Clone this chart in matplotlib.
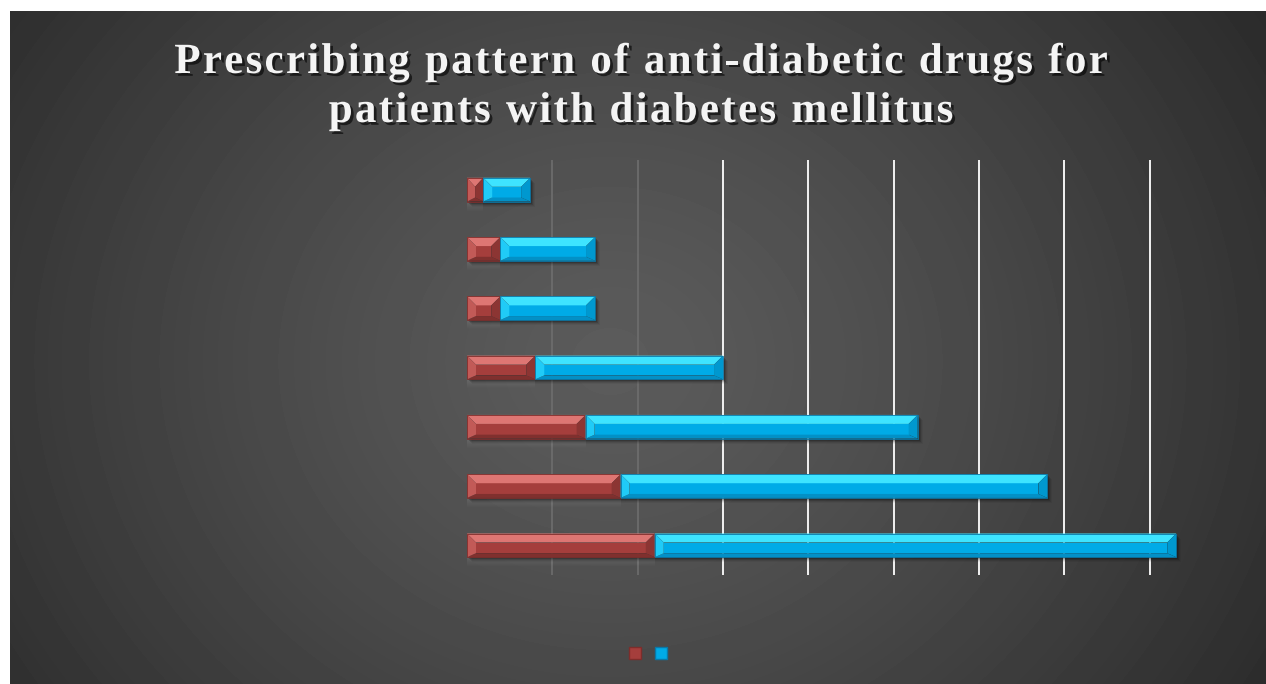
import matplotlib
matplotlib.use("Agg")
import matplotlib.pyplot as plt
import matplotlib.patheffects as pe
from matplotlib.font_manager import FontProperties
from matplotlib.patches import Polygon, Rectangle, Patch
import numpy as np

# Stacked horizontal bars, listed top to bottom
series_a = [1.9, 3.9, 3.9, 8.0, 13.9, 18.0, 22.0]
series_b = [5.5, 11.1, 11.1, 22.0, 38.9, 50.0, 61.1]
tick_values = [0, 10, 20, 30, 40, 50, 60, 70, 80]
title_lines = ["Prescribing pattern of anti-diabetic drugs for",
               "patients with diabetes mellitus"]

RED = {"face": "#a53e3c", "top": "#de7673", "bottom": "#80302e",
       "left": "#c25a57", "right": "#8c3533", "edge": "#7e2d2b"}
BLUE = {"face": "#00abe7", "top": "#3ee4ff", "bottom": "#0390c6",
        "left": "#20cbf7", "right": "#0098cf", "edge": "#0a78a8"}

W, H, DPI = 1266, 684, 100
fig = plt.figure(figsize=(W / DPI, H / DPI), dpi=DPI, facecolor="white")

# radial background panel
bg = fig.add_axes([10 / W, 0, 1256 / W, 673 / H])
bg.set_axis_off()
yy, xx = np.mgrid[0:673, 0:1256]
r = np.sqrt(((xx - 600) / 1.15) ** 2 + (yy - 350) ** 2)
t = np.clip(r / 720, 0, 1)
shade = 0.36 - 0.21 * t ** 1.25
bg.imshow(shade, cmap="gray", vmin=0, vmax=1, aspect="auto",
          extent=[0, 1, 0, 1], interpolation="bilinear")
bg.set_xlim(0, 1)
bg.set_ylim(0, 1)

ax_left, ax_right = 467, 1201
ax_top, ax_bot = 160, 575
ax = fig.add_axes([ax_left / W, (H - ax_bot) / H,
                   (ax_right - ax_left) / W, (ax_bot - ax_top) / H])
ax.patch.set_alpha(0)
n = len(series_a)
ax.set_ylim(n - 0.5, -0.5)
ax.set_xlim(0, 86)
for s in ax.spines.values():
    s.set_visible(False)
ax.tick_params(left=False, bottom=False, labelleft=False, labelbottom=False)

# vertical gridlines
for v in tick_values[1:]:
    col, lw = ("#6e6e6e", 1.2) if v <= 20 else ("#f2f2f2", 1.4)
    ax.axvline(v, color=col, lw=lw, zorder=1)

px_x = (ax_right - ax_left) / 86.0
px_y = (ax_bot - ax_top) / n
bar_h = 0.40


def bevel_bar(y, left, width, c, z):
    x0, x1 = left, left + width
    y0, y1 = y - bar_h / 2, y + bar_h / 2  # y0 is the top edge (inverted axis)
    bx = min(9 / px_x, width / 2)
    iy0, iy1 = y0 + 9 / px_y, y1 - 4 / px_y
    ix0, ix1 = x0 + bx, x1 - bx
    # soft drop shadow
    for k, a in enumerate([0.18, 0.13, 0.08, 0.05]):
        d = k + 2
        ax.add_patch(Rectangle((x0 + d / px_x, y0 + d / px_y), width, bar_h,
                               facecolor="black", alpha=a, lw=0, zorder=z - 1))
    if ix1 > ix0:
        ax.add_patch(Rectangle((ix0, iy0), ix1 - ix0, iy1 - iy0,
                               facecolor=c["face"], lw=0, zorder=z))
    ax.add_patch(Polygon([(x0, y0), (x1, y0), (ix1, iy0), (ix0, iy0)],
                         closed=True, facecolor=c["top"], lw=0, zorder=z))
    ax.add_patch(Polygon([(x0, y1), (x1, y1), (ix1, iy1), (ix0, iy1)],
                         closed=True, facecolor=c["bottom"], lw=0, zorder=z))
    ax.add_patch(Polygon([(x0, y0), (ix0, iy0), (ix0, iy1), (x0, y1)],
                         closed=True, facecolor=c["left"], lw=0, zorder=z))
    ax.add_patch(Polygon([(x1, y0), (ix1, iy0), (ix1, iy1), (x1, y1)],
                         closed=True, facecolor=c["right"], lw=0, zorder=z))
    ax.add_patch(Rectangle((x0, y0), width, bar_h, facecolor="none",
                           edgecolor=c["edge"], lw=0.6, zorder=z + 0.5))


for i, (a, b) in enumerate(zip(series_a, series_b)):
    # faint reflection below the first segment
    for k in range(9):
        ax.add_patch(Rectangle((0, i + bar_h / 2 + k / px_y), a, 1 / px_y,
                               facecolor="white", alpha=0.10 * (1 - k / 9),
                               lw=0, zorder=2))
    bevel_bar(i, 0, a, RED, 4)
    bevel_bar(i, a, b, BLUE, 6)

# legend swatches (series have no names)
handles = [Patch(facecolor=RED["face"], edgecolor=RED["edge"]),
           Patch(facecolor=BLUE["face"], edgecolor=BLUE["edge"])]
fig.legend(handles=handles, labels=["", ""], ncol=2, frameon=False,
           loc="center", bbox_to_anchor=(648 / W, 1 - 654 / H),
           handlelength=0.9, handleheight=0.9, handletextpad=0.0,
           columnspacing=1.0)

# title with expanded letter spacing, placed glyph by glyph
title_font = FontProperties(family="Liberation Serif", weight="bold", size=31)
renderer = fig.canvas.get_renderer()


def text_width(s):
    return renderer.get_text_width_height_descent(s, title_font, ismath=False)[0]


shadow = [pe.SimplePatchShadow(offset=(2, -2), alpha=0.6, shadow_rgbFace="black"),
          pe.Normal()]
spacing = 2.3
base_w = text_width("HH")
for k, line in enumerate(title_lines):
    adv = [text_width("H" + ch + "H") - base_w for ch in line]
    total = sum(adv) + spacing * (len(line) - 1)
    x = 641 - total / 2
    baseline = 73 + 49 * k
    for ch, a in zip(line, adv):
        if ch != " ":
            fig.text(x / W, 1 - baseline / H, ch, ha="left", va="baseline",
                     color="#f4f4f4", fontproperties=title_font,
                     path_effects=shadow)
        x += a + spacing

fig.savefig("out.png", dpi=DPI, facecolor="white")
